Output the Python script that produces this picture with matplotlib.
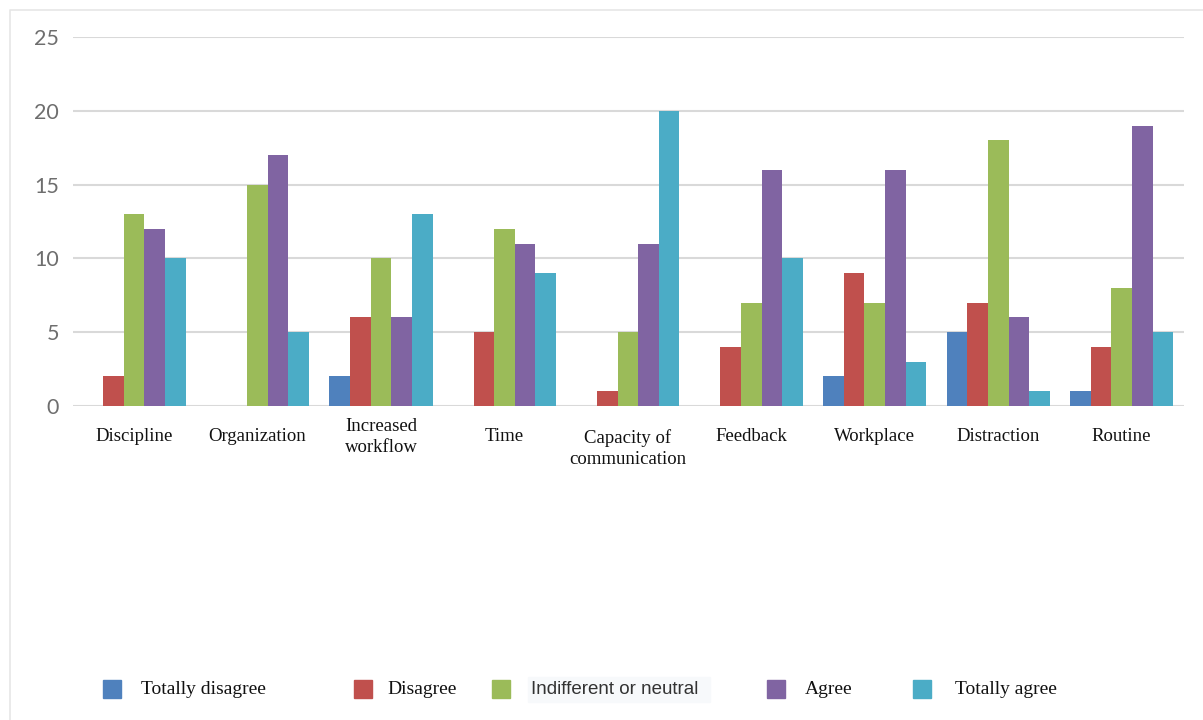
import matplotlib
matplotlib.use("Agg")
import matplotlib.pyplot as plt
from matplotlib.patches import Rectangle
from matplotlib.lines import Line2D
import numpy as np

categories = ["Discipline", "Organization", "Increased\nworkflow", "Time",
              "Capacity of\ncommunication", "Feedback", "Workplace",
              "Distraction", "Routine"]
series_names = ["Totally disagree", "Disagree", "Indifferent or neutral",
                "Agree", "Totally agree"]
totally_disagree = [0, 0, 2, 0, 0, 0, 2, 5, 1]
disagree = [2, 0, 6, 5, 1, 4, 9, 7, 4]
neutral = [13, 15, 10, 12, 5, 7, 7, 18, 8]
agree = [12, 17, 6, 11, 11, 16, 16, 6, 19]
totally_agree = [10, 5, 13, 9, 20, 10, 3, 1, 5]
yticks = [0, 5, 10, 15, 20, 25]

series = [totally_disagree, disagree, neutral, agree, totally_agree]
colors = ["#4F81BD", "#C0504D", "#9BBB59", "#8064A2", "#4BACC6"]

W, H = 1203, 720
fig = plt.figure(figsize=(W / 100, H / 100), dpi=100)
fig.patch.set_facecolor("white")

# light outer frame (top and left edges)
fig.add_artist(Line2D([10 / W, 10 / W, 1.0], [0, 1 - 10 / H, 1 - 10 / H],
                      transform=fig.transFigure, color="#E6E6E6",
                      linewidth=1.2))

ax = fig.add_axes([73 / W, 1 - 406 / H, (1184 - 73) / W, (406 - 37) / H])
x = np.arange(len(categories))
bw = 0.167
for i, (vals, c) in enumerate(zip(series, colors)):
    ax.bar(x + (i - 2) * bw, vals, width=bw, color=c, zorder=3,
           label=series_names[i])

ax.set_xlim(-0.495, 8.505)
ax.set_ylim(0, 25)
ax.set_yticks(yticks)
ax.yaxis.grid(True, color="#D9D9D9", linewidth=1.5, zorder=0)
ax.set_axisbelow(True)
for s in ax.spines.values():
    s.set_visible(False)
ax.tick_params(axis="y", length=0, pad=10, labelsize=15.5, labelcolor="#6E6E6E")
for lab in ax.get_yticklabels():
    lab.set_fontfamily("Lato")
ax.set_xticks([])

# category labels
for i, cat in enumerate(categories):
    yy = -0.084
    if cat.startswith("Capacity"):
        yy = -0.115
    ax.text(x[i], yy, cat, transform=ax.get_xaxis_transform(),
            ha="center", va="center", fontsize=13.5,
            family="Liberation Serif", color="#111111", linespacing=1.3)

# manual legend
marker_x = [103, 354, 492, 767, 913]
text_x = [141, 387, 531, 805, 955]
ly = 1 - 689 / H
for i in range(5):
    fig.add_artist(Rectangle((marker_x[i] / W, 1 - 698 / H), 18 / W, 18 / H,
                             transform=fig.transFigure, color=colors[i]))
    if i == 2:
        fig.add_artist(Rectangle((528 / W, 1 - 702 / H), 182 / W, 25 / H,
                                 transform=fig.transFigure,
                                 color="#F7F9FB", zorder=0))
        fig.text(text_x[i] / W, ly, series_names[i], ha="left", va="center",
                 fontsize=13.5, family="Liberation Sans", color="#333333")
    else:
        fig.text(text_x[i] / W, ly, series_names[i], ha="left", va="center",
                 fontsize=14, family="Liberation Serif", color="#111111")

fig.savefig("out.png", dpi=100)
